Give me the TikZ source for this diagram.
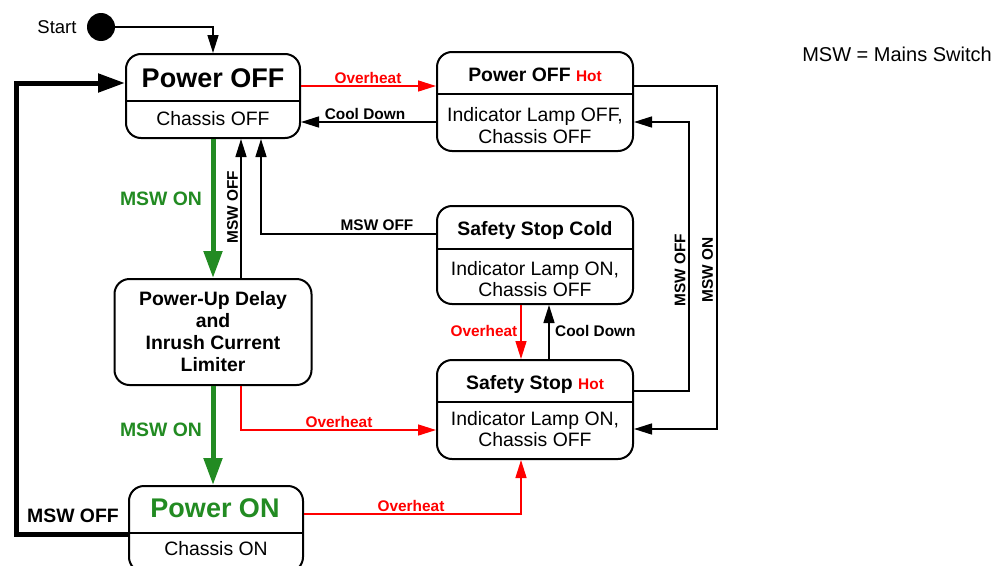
\documentclass[tikz,border=0pt]{standalone}
\usepackage{fontspec}
\setmainfont{Liberation Sans}
\usetikzlibrary{arrows.meta}
\definecolor{mswgreen}{RGB}{34,139,34}

\begin{document}
\begin{tikzpicture}[x=1pt, y=-1pt,
    state/.style={draw, line width=2pt, rounded corners=15pt, inner sep=0pt},
    title/.style={font=\fontsize{19.4}{22}\selectfont\bfseries, inner sep=0pt},
    big/.style={font=\fontsize{27}{30}\selectfont\bfseries, inner sep=0pt, anchor=base},
    body/.style={font=\fontsize{19.4}{21.5}\selectfont, align=center, inner sep=0pt},
    lbl/.style={font=\fontsize{15.4}{18}\selectfont\bfseries, inner sep=0pt},
    conn/.style={line width=1.5pt, -{Triangle[length=18pt,width=11pt]}},
    hotconn/.style={conn, red},
    fat/.style={line width=5pt, -{Triangle[length=27pt,width=18pt]}},
  ]
  \useasboundingbox (0,0) rectangle (1003,565);

  % states
  \node[state, minimum width=174pt, minimum height=84pt] (pOff) at (213,96) {};
  \node[state, minimum width=196pt, minimum height=99pt] (hotOff) at (535,101.5) {};
  \node[state, minimum width=196pt, minimum height=98pt] (coldSafe) at (535,255) {};
  \node[state, minimum width=196pt, minimum height=99pt] (hotSafe) at (535,409.5) {};
  \node[state, minimum width=197pt, minimum height=106pt,
        font=\fontsize{19.4}{22}\selectfont\bfseries, align=center] (delay) at (213,332)
        {Power-Up Delay\\and\\Inrush Current\\Limiter};
  \node[state, minimum width=174pt, minimum height=86pt] (pOn) at (216,529) {};
  \foreach \n/\y in {pOff/101, hotOff/94, coldSafe/249, hotSafe/402, pOn/533}
    \draw[line width=2pt] (\n.west |- 0,\y) -- (\n.east |- 0,\y);

  % texts in the states
  \node[big] (pOffT) at (213,87) {Power OFF};
  \node[body] (pOffB) at (213,119) {Chassis OFF};
  \node[title, anchor=base] (hotOffT) at (535,81.5)
    {Power OFF \textcolor{red}{\fontsize{15.4}{18}\selectfont Hot}};
  \node[body] (hotOffB) at (535,125.5) {Indicator Lamp OFF,\\Chassis OFF};
  \node[title, anchor=base] (coldSafeT) at (535,235) {Safety Stop Cold};
  \node[body] (coldSafeB) at (535,279) {Indicator Lamp ON,\\Chassis OFF};
  \node[title, anchor=base] (hotSafeT) at (535,389.5)
    {Safety Stop \textcolor{red}{\fontsize{15.4}{18}\selectfont Hot}};
  \node[body] (hotSafeB) at (535,429) {Indicator Lamp ON,\\Chassis OFF};
  \node[big, text=mswgreen] (pOnT) at (215,517) {Power ON};
  \node[body] (pOnB) at (216,549) {Chassis ON};

  % start
  \node[circle, fill, minimum size=28pt, inner sep=0pt] (start) at (101,27) {};
  \node[font=\fontsize{18.5}{20}\selectfont, inner sep=0pt] (startT) at (57,27) {Start};
  \draw[conn] (start.east) -| (pOff.north);
  \node[font=\fontsize{20}{22}\selectfont, inner sep=0pt] (legend) at (897,54) {MSW = Mains Switch};

  % main path
  \draw[fat, mswgreen] (pOff.south) -- (delay.north);
  \draw[fat, mswgreen] (delay.south) -- (delay.south |- pOn.north);
  \node[title, text=mswgreen] (onA) at (161,199) {MSW ON};
  \node[title, text=mswgreen] (onB) at (161,430) {MSW ON};
  \draw[fat] (pOn.west |- 0,534) -| (16,83) -- (pOff.west |- 0,83);
  \node[title] (offA) at (73,516) {MSW OFF};

  % back to power off
  \draw[conn] (delay.north -| 241,0) -- (pOff.south -| 241,0);
  \node[lbl, rotate=90] (offB) at (232.5,207) {MSW OFF};
  \draw[conn] (coldSafe.west |- 0,234) -| (pOff.south -| 261,0);
  \node[lbl] (offC) at (377,225) {MSW OFF};

  % hot and cold
  \draw[hotconn] (pOff.east |- 0,86) -- (hotOff.west |- 0,86);
  \node[lbl, text=red] (ovA) at (368,77.5) {Overheat};
  \draw[conn] (hotOff.west |- 0,122) -- (pOff.east |- 0,122);
  \node[lbl] (coolA) at (365,114) {Cool Down};
  \draw[hotconn] (coldSafe.south -| 521,0) -- (hotSafe.north -| 521,0);
  \node[lbl, text=red, anchor=east] (ovB) at (517.5,331) {Overheat};
  \draw[conn] (hotSafe.north -| 549,0) -- (coldSafe.south -| 549,0);
  \node[lbl, anchor=west] (coolB) at (555,331) {Cool Down};
  \draw[hotconn] (delay.south -| 241,0) |- (hotSafe.west |- 0,430);
  \node[lbl, text=red] (ovC) at (339,422) {Overheat};
  \draw[hotconn] (pOn.east |- 0,514) -| (hotSafe.south -| 521,0);
  \node[lbl, text=red] (ovD) at (411,506) {Overheat};

  % right side loops
  \draw[conn] (hotOff.east |- 0,86) -- (717,86) |- (hotSafe.east |- 0,429);
  \node[lbl, rotate=90] (onC) at (707.5,270) {MSW ON};
  \draw[conn] (hotSafe.east |- 0,391) -- (689,391) |- (hotOff.east |- 0,122);
  \node[lbl, rotate=90] (offD) at (680,270) {MSW OFF};
\end{tikzpicture}
\end{document}
